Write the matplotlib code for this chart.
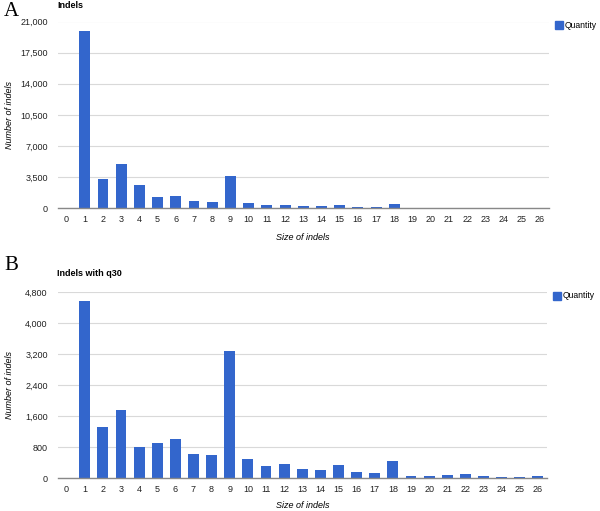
import matplotlib
matplotlib.use("Agg")
import matplotlib.pyplot as plt
from matplotlib.patches import Rectangle

sizes = list(range(0, 27))
indels_all = [0, 19950, 3300, 4980, 2620, 1240, 1350, 820, 750, 3670, 560, 370, 370,
              290, 225, 400, 150, 120, 480, 50, 40, 60, 60, 30, 10, 10, 20]
indels_q30 = [0, 4576, 1316, 1763, 808, 903, 1015, 619, 612, 3294, 499, 318, 370,
              241, 215, 344, 163, 129, 447, 60, 60, 77, 112, 55, 35, 30, 50]
yticks_a = [0, 3500, 7000, 10500, 14000, 17500, 21000]
yticks_b = [0, 800, 1600, 2400, 3200, 4000, 4800]

BAR = "#3366CC"
W, H = 600, 511
FS = 6.5
plt.rcParams['font.family'] = ['Liberation Sans', 'DejaVu Sans']

fig = plt.figure(figsize=(W / 100, H / 100), dpi=100)


def panel(left, right, top, bottom, values, yticks, title, letter, letter_y, title_y,
          xlabel_y, legend_x, legend_y):
    ax = fig.add_axes([left / W, 1 - bottom / H, (right - left) / W, (bottom - top) / H])
    ax.bar(sizes, values, width=0.6, color=BAR, zorder=3)
    ax.set_xlim(-0.5, 26.5)
    ax.set_ylim(0, yticks[-1])
    ax.set_yticks(yticks)
    ax.set_yticklabels([f"{v:,}" for v in yticks])
    ax.set_xticks(sizes)
    ax.set_xticklabels([str(s) for s in sizes])
    ax.tick_params(axis='both', length=0, labelsize=FS, colors='#222222')
    ax.tick_params(axis='y', pad=7)
    ax.tick_params(axis='x', pad=5)
    ax.grid(axis='y', color='#d9d9d9', linewidth=0.8, zorder=0)
    for s in ['top', 'right', 'left']:
        ax.spines[s].set_visible(False)
    ax.spines['bottom'].set_color('#888888')
    ax.spines['bottom'].set_linewidth(1.0)
    ax.spines['bottom'].set_zorder(4)
    fig.text(10 / W, 1 - (top + bottom) / 2 / H, "Number of indels", fontsize=FS,
             style='italic', rotation=90, ha='center', va='center')
    fig.text((left + right) / 2 / W, 1 - xlabel_y / H, "Size of indels", fontsize=FS,
             style='italic', ha='center', va='center')
    fig.text(57 / W, 1 - title_y / H, title, fontsize=FS, fontweight='bold',
             ha='left', va='center')
    fig.text(4 / W, 1 - letter_y / H, letter, fontsize=15, family='Liberation Serif',
             ha='left', va='center')
    fig.patches.append(Rectangle((legend_x / W, 1 - (legend_y + 4) / H), 8 / W, 8 / H,
                                 transform=fig.transFigure, color=BAR, figure=fig))
    fig.text((legend_x + 10) / W, 1 - legend_y / H, "Quantity", fontsize=6.2,
             ha='left', va='center')
    return ax


panel(57.5, 549, 21.5, 208.3, indels_all, yticks_a, "Indels", "A", 12, 6, 238, 555, 25)
panel(57.5, 547, 292.3, 478.3, indels_q30, yticks_b, "Indels with q30", "B", 266, 274, 505, 553, 296)

fig.savefig("out.png", dpi=100)
